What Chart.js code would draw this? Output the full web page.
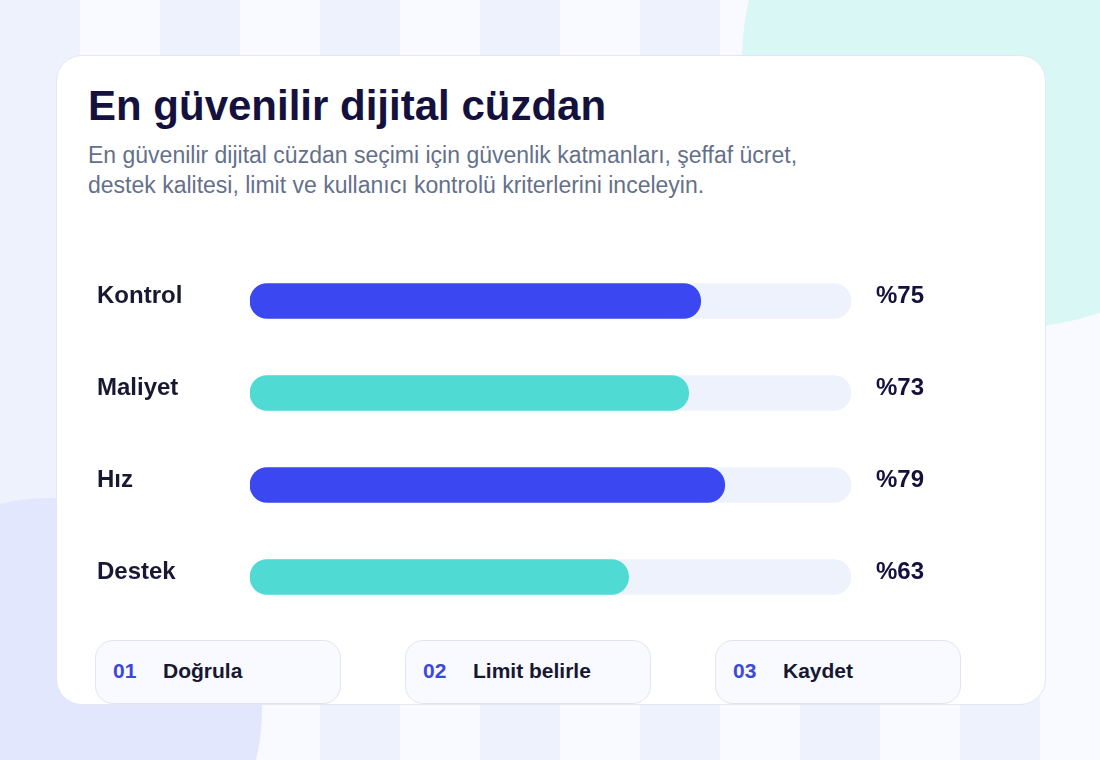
<!DOCTYPE html>
<html lang="tr">
<head>
<meta charset="utf-8">
<title>En güvenilir dijital cüzdan</title>
<script src="https://cdn.jsdelivr.net/npm/chart.js@4.4.1/dist/chart.umd.min.js"></script>
<style>
  html, body { margin: 0; padding: 0; }
  body {
    width: 1100px; height: 760px; overflow: hidden; position: relative;
    background: #f8faff;
    font-family: "Liberation Sans", Arial, Helvetica, sans-serif;
  }
  .stripes {
    position: absolute; left: 0; top: 0; width: 1040px; height: 760px;
    background: repeating-linear-gradient(to right, #eef2fd 0 80px, #f8faff 80px 160px);
  }
  .blob-teal {
    position: absolute; left: 742px; top: -208px; width: 536px; height: 536px;
    border-radius: 50%; background: #d9f8f5;
  }
  .blob-lav {
    position: absolute; left: -162px; top: 498px; width: 424px; height: 424px;
    border-radius: 50%; background: #e3e7fd;
  }
  .card {
    position: absolute; left: 56px; top: 55px; width: 990px; height: 650px;
    box-sizing: border-box;
    background: #ffffff; border: 1.5px solid #e2e7f3; border-radius: 26px;
  }
  h1 {
    position: absolute; left: 88px; top: 85px; margin: 0;
    font-size: 42px; line-height: 42px; font-weight: 700; color: #14113f;
  }
  .sub {
    position: absolute; left: 88px; top: 140px; margin: 0;
    font-size: 23px; line-height: 30px; color: #64708a;
  }
  .chart-box {
    position: absolute; left: 97px; top: 255px; width: 863px; height: 368px;
  }
  .step {
    position: absolute; top: 640px; width: 246px; height: 64px;
    background: #f8faff; border: 1px solid #e0e5f1; border-radius: 18px;
    box-sizing: border-box;
  }
  .step .num {
    position: absolute; left: 17px; top: 18px;
    font-size: 21px; font-weight: 700; color: #3d49d8;
  }
  .step .txt {
    position: absolute; left: 67px; top: 18px;
    font-size: 21px; font-weight: 700; color: #171731;
  }
</style>
</head>
<body>
<div class="stripes"></div>
<div class="blob-teal"></div>
<div class="blob-lav"></div>
<div class="card"></div>

<h1>En güvenilir dijital cüzdan</h1>
<p class="sub">En güvenilir dijital cüzdan seçimi için güvenlik katmanları, şeffaf ücret,<br>destek kalitesi, limit ve kullanıcı kontrolü kriterlerini inceleyin.</p>

<div class="chart-box"><canvas id="grafico"></canvas></div>

<div id="pasos"></div>

<script>
// Datos del gráfico
const categorias = ['Kontrol', 'Maliyet', 'Hız', 'Destek'];
const valores = [75, 73, 79, 63];
const pista = [100, 100, 100, 100];
const etiquetasValor = ['%75', '%73', '%79', '%63'];
const pasosNum = ['01', '02', '03'];
const pasosTexto = ['Doğrula', 'Limit belirle', 'Kaydet'];

// Pasos de abajo
const contPasos = document.getElementById('pasos');
pasosNum.forEach((n, i) => {
    contPasos.innerHTML += `
        <div class="step" style="left:${95 + i * 310}px">
            <span class="num">${n}</span><span class="txt">${pasosTexto[i]}</span>
        </div>`;
});

const azul = '#3b47f1';
const turquesa = '#4fdad4';
const fuenteEtiqueta = { family: '"Liberation Sans", Arial, sans-serif', size: 24, weight: 'bold' };

// sin padding vertical extra en los ejes
const ajustarEje = ancho => s => {
    s.width = ancho;
    s.paddingTop = 0;
    s.paddingBottom = 0;
};

const ctx = document.getElementById('grafico').getContext('2d');
new Chart(ctx, {
    type: 'bar',
    data: {
        labels: categorias,
        datasets: [
            {
                label: 'Valor',
                data: valores,
                backgroundColor: [azul, turquesa, azul, turquesa],
                borderRadius: 20,
                borderSkipped: false,
                barThickness: 35,
                grouped: false,
                order: 1
            },
            {
                label: 'Pista',
                data: pista,
                backgroundColor: '#edf2fc',
                borderRadius: 20,
                borderSkipped: false,
                barThickness: 35,
                grouped: false,
                order: 2
            }
        ]
    },
    options: {
        indexAxis: 'y',
        responsive: true,
        maintainAspectRatio: false,
        animation: false,
        layout: { padding: 0 },
        plugins: {
            legend: { display: false },
            tooltip: { enabled: false },
            title: { display: false }
        },
        scales: {
            x: { min: 0, max: 100, display: false },
            y: {
                position: 'left',
                grid: { display: false, drawTicks: false },
                border: { display: false },
                ticks: {
                    color: '#181833',
                    font: fuenteEtiqueta,
                    crossAlign: 'far',
                    padding: 0,
                    labelOffset: -5
                },
                afterFit: ajustarEje(153)
            },
            y2: {
                type: 'category',
                labels: etiquetasValor,
                position: 'right',
                offset: true,
                grid: { display: false, drawTicks: false },
                border: { display: false },
                ticks: {
                    color: '#14113f',
                    font: fuenteEtiqueta,
                    padding: 25,
                    labelOffset: -5
                },
                afterFit: ajustarEje(109)
            }
        }
    }
});
</script>
</body>
</html>
